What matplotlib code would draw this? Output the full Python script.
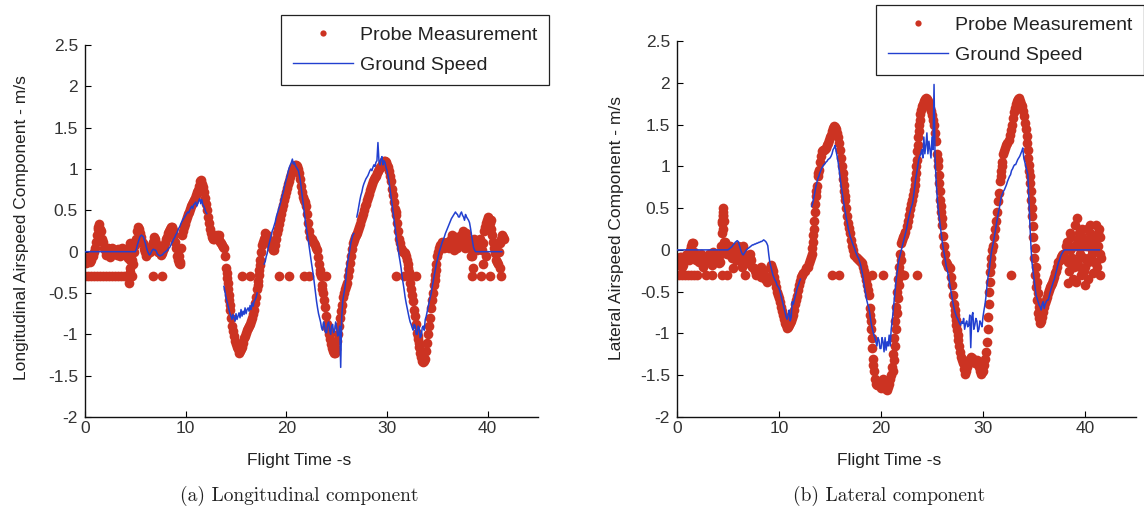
import numpy as np
import matplotlib
matplotlib.use("Agg")
import matplotlib.pyplot as plt
from matplotlib.lines import Line2D

nan = np.nan
# ---------------- data (sampled every 0.1 s from t = 0) ----------------
t_step = 0.1

# (a) Longitudinal component
lon_probe = [
    -0.10, -0.14, -0.12, -0.06, -0.08, -0.13, -0.10, -0.04, -0.05, 0.00,
    0.05, 0.12, 0.20, 0.30, 0.33, 0.28, 0.25, 0.15, 0.12, 0.05,
    0.02, -0.04, 0.00, 0.04, -0.03, -0.06, 0.02, 0.05, -0.02, 0.00,
    0.02, -0.02, -0.04, 0.03, 0.00, -0.05, 0.03, 0.05, -0.03, 0.00,
    0.00, 0.03, -0.05, -0.08, -0.02, -0.20, -0.30, -0.10, -0.15, 0.00,
    0.08, 0.15, 0.25, 0.30, 0.28, 0.22, 0.18, 0.12, 0.10, 0.03,
    0.00, -0.05, -0.03, 0.02, 0.05, 0.00, 0.02, 0.08, 0.12, 0.18,
    0.15, 0.10, 0.05, 0.00, 0.00, -0.04, -0.02, 0.02, 0.05, 0.10,
    0.15, 0.18, 0.22, 0.25, 0.28, 0.30, 0.30, 0.26, 0.20, 0.12,
    0.05, -0.05, -0.10, -0.14, -0.12, 0.05, 0.20, 0.25, 0.30, 0.34,
    0.38, 0.42, 0.45, 0.48, 0.52, 0.55, 0.58, 0.60, 0.62, 0.65,
    0.68, 0.72, 0.75, 0.80, 0.85, 0.87, 0.82, 0.78, 0.72, 0.65,
    0.58, 0.50, 0.42, 0.35, 0.28, 0.22, 0.18, 0.15, 0.15, 0.17,
    0.18, 0.20, 0.16, 0.14, 0.12, 0.10, 0.08, 0.06, 0.05, -0.05,
    -0.20, -0.32, -0.45, -0.58, -0.70, -0.80, -0.90, -0.96, -1.02, -1.08,
    -1.12, -1.15, -1.18, -1.22, -1.20, -1.18, -1.15, -1.10, -1.05, -1.02,
    -0.98, -0.95, -0.92, -0.90, -0.88, -0.84, -0.80, -0.75, -0.70, -0.62,
    -0.55, -0.45, -0.35, -0.22, -0.10, 0.00, 0.08, 0.12, 0.15, 0.18,
    0.18, 0.20, 0.15, 0.12, 0.10, 0.08, 0.05, 0.02, 0.02, 0.08,
    0.15, 0.22, 0.28, 0.34, 0.40, 0.46, 0.52, 0.57, 0.62, 0.67,
    0.72, 0.77, 0.82, 0.86, 0.90, 0.94, 0.98, 1.01, 1.03, 1.05,
    1.05, 1.04, 1.00, 0.95, 0.88, 0.80, 0.72, 0.66, 0.62, 0.60,
    0.55, 0.45, 0.35, 0.25, 0.18, 0.15, 0.12, 0.10, 0.08, 0.05,
    0.02, -0.06, -0.15, -0.22, -0.30, -0.40, -0.50, -0.58, -0.67, -0.78,
    -0.88, -0.94, -1.00, -1.06, -1.12, -1.16, -1.20, -1.22, -1.23, -1.18,
    -1.08, -1.00, -0.90, -0.80, -0.72, -0.64, -0.55, -0.50, -0.45, -0.42,
    -0.38, -0.30, -0.22, -0.14, -0.05, 0.03, 0.10, 0.14, 0.18, 0.20,
    0.22, 0.26, 0.30, 0.34, 0.38, 0.42, 0.45, 0.50, 0.55, 0.58,
    0.62, 0.66, 0.70, 0.74, 0.78, 0.82, 0.85, 0.88, 0.90, 0.92,
    0.95, 0.98, 1.00, 1.02, 1.03, 1.06, 1.08, 1.10, 1.10, 1.08,
    1.05, 1.02, 0.98, 0.92, 0.85, 0.76, 0.68, 0.60, 0.52, 0.44,
    0.35, 0.25, 0.15, 0.10, 0.05, 0.02, 0.00, 0.00, -0.02, -0.05,
    -0.10, -0.20, -0.30, -0.38, -0.45, -0.52, -0.60, -0.70, -0.78, -0.88,
    -0.98, -1.06, -1.15, -1.22, -1.28, -1.32, -1.33, -1.32, -1.30, -1.20,
    -1.10, -1.00, -0.90, -0.80, -0.68, -0.58, -0.50, -0.40, -0.28, -0.15,
    -0.05, 0.00, 0.05, 0.08, 0.08, 0.12, 0.10, 0.05, 0.06, 0.10,
    0.12, 0.08, 0.05, 0.10, 0.15, 0.12, 0.08, 0.02, 0.12, 0.18,
    0.05, 0.10, 0.15, 0.08, 0.20, 0.18, 0.12, 0.05, 0.22, 0.15,
    0.12, 0.08, 0.05, -0.05, -0.05, 0.05, 0.15, 0.08, 0.10, 0.02,
    0.05, 0.12, 0.15, 0.08, 0.02, 0.10, 0.25, 0.30, 0.35, 0.38,
    0.42, 0.40, 0.35, 0.28, 0.20, 0.12, 0.05, -0.02, -0.10, -0.12,
    -0.15, 0.00, 0.10, 0.15, 0.20, 0.18, 0.15,
]
lon_ground = [
    0, 0, 0, 0, 0, 0, 0, 0, 0, 0, 0, 0, 0, 0, 0, 0, 0, 0, 0, 0, 0, 0, 0, 0, 0,
    0, 0, 0, 0, 0, 0, 0, 0, 0, 0, 0, 0, 0, 0, 0, 0, 0, 0, 0, 0, 0, 0, 0, 0, 0,
    0.00, 0.03, 0.08, 0.12, 0.16, 0.19, 0.20, 0.19, 0.18, 0.14,
    0.10, 0.05, 0.01, -0.02, -0.04, -0.03, 0.00, 0.02, 0.03, 0.02,
    0.02, 0.00, -0.03, -0.04, -0.05, -0.05, -0.04, -0.04, -0.02, -0.01,
    0.00, 0.01, 0.02, 0.04, 0.05, 0.07, 0.10, 0.12, 0.15, 0.17,
    0.20, 0.22, 0.25, 0.28, 0.30, 0.33, 0.36, 0.38, 0.40, 0.42,
    0.44, 0.46, 0.48, 0.47, 0.50, 0.53, 0.55, 0.52, 0.57, 0.58,
    0.60, 0.55, 0.58, 0.62, 0.64, 0.58, 0.63, 0.57, 0.55, 0.52,
    0.48, 0.46, nan, nan, nan, nan, nan, nan, nan, nan,
    nan, nan, nan, nan, nan, nan, nan, nan, -0.42, -0.48,
    -0.55, -0.60, -0.65, -0.70, -0.75, -0.78, -0.82, -0.76, -0.80, -0.84,
    -0.75, -0.82, -0.78, -0.74, -0.80, -0.70, -0.78, -0.72, -0.76, -0.68,
    -0.75, -0.70, -0.68, -0.72, -0.65, -0.70, -0.62, -0.66, -0.60, -0.58,
    -0.55, -0.50, nan, nan, nan, nan, nan, nan, -0.15, -0.12,
    -0.06, -0.02, 0.05, 0.10, 0.15, 0.20, 0.25, 0.28, 0.32, 0.36,
    0.42, 0.46, 0.50, 0.54, 0.58, 0.63, 0.68, 0.72, 0.78, 0.83,
    0.88, 0.92, 0.98, 1.02, 1.05, 1.08, 1.12, 1.06, 1.08, 1.04,
    1.02, 1.00, 0.98, 0.92, 0.85, 0.75, 0.65, 0.55, 0.45, 0.36,
    0.28, 0.20, 0.12, 0.03, -0.05, -0.14, -0.22, -0.30, -0.40, -0.50,
    -0.60, -0.68, -0.75, -0.80, -0.85, -0.92, -0.95, -0.85, -0.90, -0.98,
    -0.98, -0.88, -0.85, -0.95, -1.00, -0.90, -0.88, -0.98, -0.95, -0.85,
    -0.92, -1.02, -1.00, -0.90, -1.40, -0.80, -0.60, -0.52, -0.45, -0.35,
    -0.20, -0.12, -0.05, 0.02, 0.10, 0.15, 0.20, 0.22, nan, nan,
    0.42, 0.48, 0.55, 0.62, 0.68, 0.72, 0.78, 0.82, 0.85, 0.88,
    0.90, 0.92, 0.95, 0.98, 1.00, 0.98, 1.02, 1.05, 1.03, 1.08,
    1.10, 1.32, 1.10, 1.05, 1.12, 1.15, 1.05, 1.10, 1.08, 1.02,
    0.98, 0.92, 0.85, 0.76, 0.68, 0.58, 0.50, 0.40, 0.30, 0.20,
    0.12, 0.03, -0.05, -0.12, -0.20, -0.30, -0.38, -0.46, -0.55, -0.62,
    -0.68, -0.74, -0.80, -0.85, -0.88, -0.92, -0.95, -0.88, -0.90, -1.00,
    -1.00, -0.90, -0.92, -1.04, -1.02, -0.92, -0.90, -0.95, -0.82, -0.78,
    -0.72, -0.66, -0.60, -0.55, -0.50, -0.42, -0.35, -0.28, -0.22, -0.15,
    -0.10, -0.05, 0.00, 0.04, 0.08, 0.12, 0.15, 0.18, 0.22, 0.25,
    0.28, 0.31, 0.34, 0.37, 0.40, 0.42, 0.44, 0.46, 0.48, 0.46,
    0.45, 0.42, 0.42, 0.46, 0.48, 0.44, 0.42, 0.38, 0.45, 0.42,
    0.40, 0.38, 0.35, 0.28, 0.20, 0.12, 0.05, 0.02, 0.00, 0.00,
    0, 0, 0, 0, 0, 0, 0, 0, 0, 0, 0, 0, 0, 0, 0, 0, 0, 0, 0, 0,
    0, 0, 0, 0, 0, nan, nan,
]
lon_drop_t = [0.0, 0.3, 0.6, 0.9, 1.2, 1.5, 1.8, 2.1, 2.4, 2.7, 3.0, 3.3, 3.6, 3.9,
              4.3, 4.7, 6.8, 7.6, 15.6, 16.4, 19.3, 20.3, 21.8, 22.3, 23.9,
              30.9, 31.7, 32.9, 38.4, 39.3, 40.2, 41.3]
lon_drop_v = -0.3
lon_extra_t = [4.4, 4.5, 4.5, 4.6, 4.5, 1.3, 1.4, 9.3, 9.4, 36.5, 37.5, 38.5, 39.5,
               40.3, 41.2, 39.8, 40.1, 13.3, 17.9,
               14.15, 14.25, 14.35, 14.45, 17.15, 17.25, 17.35, 23.35, 23.55,
               32.05, 32.15, 33.05, 33.15, 34.75, 34.85, 24.05, 30.85]
lon_extra_v = [-0.38, -0.25, -0.10, 0.05, 0.10, 0.28, 0.18, -0.05, -0.15, 0.20, 0.25,
               -0.20, -0.15, 0.38, -0.20, -0.05, 0.30, 0.20, 0.22,
               -0.26, -0.38, -0.52, -0.64, -0.40, -0.28, -0.16, -0.26, -0.45,
               -0.15, -0.25, -1.02, -1.10, -0.34, -0.22, -0.91, 0.48]

# (b) Lateral component
lat_probe = [
    -0.12, -0.18, -0.15, -0.08, -0.08, -0.14, -0.18, -0.12, -0.10, -0.06,
    -0.05, -0.10, -0.12, 0.00, 0.05, 0.08, 0.08, -0.02, -0.10, -0.12,
    -0.08, -0.12, -0.14, -0.10, -0.05, -0.08, -0.10, -0.14, -0.15, -0.12,
    -0.08, -0.05, -0.12, -0.16, -0.18, -0.14, -0.10, -0.08, -0.05, -0.08,
    -0.12, -0.16, -0.15, -0.05, 0.20, 0.45, 0.35, 0.10, 0.00, -0.05,
    -0.05, 0.02, 0.05, -0.02, -0.10, -0.05, 0.02, -0.04, -0.12, -0.02,
    0.05, 0.00, -0.08, -0.15, -0.20, -0.10, -0.05, -0.10, -0.12, -0.16,
    -0.15, -0.10, -0.05, -0.12, -0.20, -0.22, -0.25, -0.24, -0.28, -0.26,
    -0.30, -0.28, -0.32, -0.30, -0.28, -0.32, -0.35, -0.33, -0.38, -0.36,
    -0.32, -0.22, -0.18, -0.22, -0.25, -0.32, -0.38, -0.44, -0.50, -0.54,
    -0.58, -0.62, -0.68, -0.73, -0.78, -0.83, -0.88, -0.90, -0.93, -0.92,
    -0.90, -0.88, -0.85, -0.82, -0.78, -0.72, -0.65, -0.60, -0.55, -0.48,
    -0.42, -0.37, -0.32, -0.30, -0.28, -0.25, -0.22, -0.21, -0.20, -0.16,
    -0.12, -0.08, -0.05, 0.10, 0.25, 0.45, 0.64, 0.76, 0.88, 0.96,
    1.05, 1.12, 1.18, 1.20, 1.20, 1.21, 1.22, 1.25, 1.28, 1.32,
    1.35, 1.38, 1.42, 1.46, 1.48, 1.47, 1.45, 1.40, 1.35, 1.28,
    1.20, 1.10, 1.00, 0.85, 0.70, 0.60, 0.50, 0.40, 0.32, 0.26,
    0.20, 0.12, 0.05, 0.00, -0.06, -0.08, -0.10, -0.11, -0.12, -0.13,
    -0.14, -0.16, -0.20, -0.25, -0.30, -0.36, -0.42, -0.48, -0.54, -0.70,
    -0.85, -1.05, -1.30, -1.45, -1.55, -1.60, -1.62, -1.58, -1.58, -1.62,
    -1.65, -1.60, -1.55, -1.58, -1.62, -1.66, -1.68, -1.64, -1.60, -1.55,
    -1.50, -1.40, -1.25, -1.05, -0.85, -0.68, -0.50, -0.35, -0.20, -0.05,
    0.08, 0.12, 0.15, 0.18, 0.22, 0.28, 0.35, 0.42, 0.49, 0.55,
    0.60, 0.66, 0.72, 0.85, 1.00, 1.18, 1.35, 1.50, 1.63, 1.68,
    1.72, 1.75, 1.78, 1.80, 1.82, 1.80, 1.78, 1.74, 1.70, 1.66,
    1.62, 1.56, 1.50, 1.40, 1.30, 1.15, 1.00, 0.80, 0.60, 0.45,
    0.30, 0.17, 0.05, -0.05, -0.14, -0.17, -0.20, -0.21, -0.22, -0.32,
    -0.42, -0.54, -0.65, -0.78, -0.90, -1.02, -1.15, -1.22, -1.28, -1.32,
    -1.35, -1.42, -1.48, -1.45, -1.40, -1.36, -1.32, -1.30, -1.28, -1.29,
    -1.30, -1.33, -1.35, -1.34, -1.32, -1.36, -1.40, -1.45, -1.48, -1.46,
    -1.45, -1.38, -1.30, -1.22, -1.10, -0.80, -0.50, -0.26, -0.10, 0.00,
    0.05, 0.15, 0.25, 0.35, 0.45, 0.58, 0.68, 0.82, 0.95, 1.05,
    1.15, 1.18, 1.22, 1.25, 1.28, 1.32, 1.38, 1.44, 1.50, 1.58,
    1.65, 1.70, 1.75, 1.78, 1.80, 1.82, 1.78, 1.75, 1.72, 1.66,
    1.60, 1.52, 1.45, 1.28, 1.10, 0.95, 0.80, 0.60, 0.40, 0.15,
    -0.10, -0.30, -0.45, -0.60, -0.75, -0.82, -0.88, -0.85, -0.80, -0.74,
    -0.68, -0.64, -0.60, -0.56, -0.52, -0.48, -0.45, -0.42, -0.40, -0.36,
    -0.32, -0.28, -0.25, -0.20, -0.15, -0.12, -0.08, -0.06, -0.05, -0.08,
    -0.10, 0.05, 0.10, -0.15, -0.25, 0.00, 0.15, -0.10, -0.35, -0.20,
    0.30, 0.05, -0.15, 0.10, 0.20, -0.05, -0.30, 0.15, 0.05, -0.25,
    -0.20, 0.10, 0.25, -0.15, -0.10, 0.20, 0.15, -0.05, -0.28, 0.05,
    0.10, -0.15, -0.20, 0.20, 0.25, -0.05, -0.10,
]
lat_ground = [
    0, 0, 0, 0, 0, 0, 0, 0, 0, 0, 0, 0, 0, 0, 0, 0, 0, 0, 0, 0, 0, 0, 0, 0, 0,
    0, 0, 0, 0, 0, 0, 0, 0, 0, 0, 0, 0, 0, 0, 0, 0, 0, 0, 0, 0, 0, 0, 0, 0, 0,
    0.00, 0.01, 0.02, 0.03, 0.04, 0.06, 0.07, 0.09, 0.10, 0.11,
    0.10, 0.06, 0.02, -0.02, -0.05, -0.06, -0.04, -0.02, 0.00, 0.01,
    0.02, 0.03, 0.04, 0.05, 0.06, 0.06, 0.07, 0.07, 0.08, 0.08,
    0.09, 0.09, 0.10, 0.10, 0.11, 0.12, 0.11, 0.10, 0.08, 0.05,
    -0.06, -0.15, -0.20, -0.25, -0.30, -0.33, -0.36, -0.38, -0.42, -0.44,
    -0.46, -0.50, -0.55, -0.60, -0.65, -0.70, -0.75, -0.80, -0.83, -0.78,
    -0.72, -0.85, -0.80, -0.62, -0.65, -0.60, -0.55, -0.50, -0.45, -0.42,
    -0.38, -0.35, nan, nan, nan, nan, nan, nan, nan, nan,
    nan, nan, 0.52, 0.56, 0.62, 0.68, 0.75, 0.80, 0.85, 0.88,
    0.92, 0.95, 0.98, 1.00, 1.02, 1.03, 1.05, 1.06, 1.08, 1.09,
    1.10, 1.12, 1.15, 1.20, 1.22, 1.25, 1.18, 1.12, 1.05, 0.95,
    0.85, 0.76, 0.68, 0.60, 0.52, 0.45, 0.38, 0.32, 0.25, 0.20,
    0.15, 0.12, 0.08, 0.05, 0.02, -0.02, -0.05, -0.08, -0.10, -0.14,
    -0.18, -0.24, -0.30, -0.38, -0.46, -0.53, -0.60, -0.65, -0.69, -0.76,
    -0.85, -0.92, -0.97, -1.02, -1.05, -1.10, -1.15, -1.05, -1.08, -1.18,
    -1.18, -1.05, -1.10, -1.22, -1.05, -1.20, -1.10, -1.15, -1.02, -1.15,
    -0.95, -0.85, -0.72, -0.60, -0.45, -0.34, -0.25, -0.15, -0.10, -0.05,
    0.00, 0.05, 0.10, 0.15, 0.20, 0.25, 0.32, 0.38, 0.43, 0.48,
    0.52, 0.56, 0.65, 0.75, 0.85, 0.92, 1.00, 1.08, 1.12, 1.15,
    1.20, 1.10, 1.35, 1.15, 1.25, 1.40, 1.15, 1.30, 1.20, 1.10,
    1.35, 1.20, 1.98, 1.10, 0.84, 0.65, 0.50, 0.40, 0.30, 0.20,
    0.10, 0.02, -0.05, -0.12, -0.20, -0.25, -0.30, -0.38, -0.45, -0.52,
    -0.60, -0.66, -0.72, -0.76, -0.80, -0.82, -0.85, -0.88, -0.90, -0.86,
    -0.88, -0.82, -0.95, -0.88, -0.85, -0.92, -0.90, -0.78, -1.17, -0.80,
    -0.75, -0.95, -0.90, -0.82, -0.85, -0.98, -0.95, -0.85, -0.88, -0.92,
    -0.80, -0.72, -0.65, -0.55, -0.42, -0.32, -0.25, -0.15, -0.05, 0.02,
    0.08, 0.15, 0.22, 0.30, 0.37, 0.44, 0.50, 0.57, 0.64, 0.67,
    0.70, 0.72, 0.75, 0.78, 0.82, 0.85, 0.88, 0.90, 0.95, 0.97,
    1.00, 1.02, 1.02, 1.05, 1.08, 1.10, 1.12, 1.15, 1.18, 1.22,
    1.10, 1.05, 1.00, 0.95, 0.90, 0.60, 0.30, 0.05, -0.15, -0.25,
    -0.35, -0.45, -0.54, -0.58, -0.62, -0.66, -0.68, -0.72, -0.65, -0.62,
    -0.70, -0.65, -0.62, -0.60, -0.60, -0.55, -0.50, -0.46, -0.42, -0.38,
    -0.35, -0.30, -0.25, -0.20, -0.15, -0.12, -0.08, -0.05, -0.03, -0.01,
    0, 0, 0, 0, 0, 0, 0, 0, 0, 0, 0, 0, 0, 0, 0, 0, 0, 0, 0, 0,
    0, 0, 0, 0, 0, 0, 0, 0, 0, 0,
    0, 0, 0, 0, 0, nan, nan,
]
lat_drop_t = [0.2, 0.5, 0.8, 1.1, 1.4, 1.7, 2.0, 2.8, 3.4, 4.9, 6.7, 7.7,
              15.2, 15.9, 19.1, 20.2, 22.3, 23.5, 32.7]
lat_drop_v = -0.3
lat_extra_t = [4.4, 4.5, 4.5, 4.5, 4.6, 4.4, 0.5, 1.3, 2.5, 3.5, 5.5, 6.5, 7.2, 8.2,
               38.3, 38.5, 38.7, 38.9, 39.1, 39.3, 39.5, 39.7, 39.9, 40.1, 40.3,
               40.5, 40.7, 40.9, 41.1, 41.3, 41.5, 41.5, 39.2, 40.0,
               13.25, 13.35, 13.45, 13.55, 13.65, 13.85, 16.25, 16.35, 16.45,
               18.95, 19.05, 19.15, 19.25,
               21.15, 21.25, 21.35, 21.45, 21.55, 21.65, 21.75, 21.85, 21.95,
               23.35, 23.45, 23.55, 23.65, 23.75, 23.85,
               25.55, 25.65, 25.75, 25.85, 25.95,
               27.25, 27.35, 27.45, 27.55,
               30.45, 30.55, 30.65, 30.75, 31.75, 31.85,
               34.35, 34.45, 34.55, 34.65, 34.75, 34.85, 34.95, 35.05, 35.15,
               35.25, 35.35, 35.45, 4.35, 4.45, 4.55]
lat_extra_v = [0.35, 0.50, 0.40, 0.25, 0.10, -0.30, -0.20, -0.05, -0.20, -0.02, -0.22,
               0.05, -0.10, -0.20,
               -0.40, 0.20, -0.15, 0.05, -0.38, 0.12, -0.20, 0.25, -0.10, 0.05, -0.35,
               0.30, 0.00, -0.15, 0.30, 0.05, -0.30, 0.15, 0.38, -0.42,
               0.02, 0.18, 0.35, 0.55, 0.70, 0.92, 0.92, 0.78, 0.65,
               -0.78, -0.95, -1.18, -1.38,
               -1.45, -1.32, -1.15, -0.95, -0.76, -0.58, -0.42, -0.28, -0.12,
               0.78, 0.92, 1.08, 1.26, 1.42, 1.56,
               1.08, 0.90, 0.70, 0.52, 0.38,
               -0.72, -0.84, -0.96, -1.08,
               -0.95, -0.65, -0.38, -0.18, 0.88, 1.00,
               1.36, 1.20, 1.02, 0.88, 0.70, 0.50, 0.28, 0.02, -0.20,
               -0.38, -0.52, -0.68, 0.05, 0.32, 0.42]

x_ticks = [0, 10, 20, 30, 40]
y_ticks = [-2, -1.5, -1, -0.5, 0, 0.5, 1, 1.5, 2, 2.5]
y_ticklabels = ["-2", "-1.5", "-1", "-0.5", "0", "0.5", "1", "1.5", "2", "2.5"]

# ---------------- style ----------------
RED = "#cc3322"
BLUE = "#2240d0"
W, H = 1144, 513
plt.rcParams["font.family"] = ["Liberation Sans", "DejaVu Sans"]

fig = plt.figure(figsize=(W / 100, H / 100), dpi=100)


def make_panel(rect, probe, ground, drop_t, drop_v, extra_t, extra_v,
               ylabel, ylabel_x, caption, cx, leg_xy):
    ax = fig.add_axes(rect)
    t = np.arange(len(probe)) * t_step
    tg = np.arange(len(ground)) * t_step
    pt = np.concatenate([t, np.array(drop_t), np.array(extra_t)])
    pv = np.concatenate([np.array(probe), np.full(len(drop_t), drop_v), np.array(extra_v)])
    ax.plot(pt, pv, linestyle="none", marker="o", ms=7, mew=0, color=RED, zorder=2)
    ax.plot(tg, np.array(ground, dtype=float), color=BLUE, lw=1.1, zorder=3)
    ax.set_xlim(0, 45)
    ax.set_ylim(-2, 2.5)
    ax.set_xticks(x_ticks)
    ax.set_yticks(y_ticks)
    ax.set_yticklabels(y_ticklabels)
    for s in ("top", "right"):
        ax.spines[s].set_visible(False)
    for s in ("left", "bottom"):
        ax.spines[s].set_linewidth(1.0)
        ax.spines[s].set_color("#111111")
    ax.tick_params(direction="in", length=4, width=0.8, labelsize=12.5,
                   labelcolor="#333333", pad=3)
    ax.tick_params(axis="y", pad=5)
    fig.text(ylabel_x / W, 1 - 228 / H, ylabel, rotation=90, ha="center", va="center",
             fontsize=12.5, color="#222222")
    fig.text(cx / W, 1 - 460 / H, "Flight Time -s", ha="center", va="center",
             fontsize=12.5, color="#222222")
    fig.text(cx / W, 1 - 496 / H, caption, ha="center", va="center",
             fontsize=14, family="cmr10", color="#222222")
    handles = [Line2D([], [], linestyle="none", marker="o", ms=4.5, mew=0, color=RED),
               Line2D([], [], color=BLUE, lw=1.0)]
    leg = ax.legend(handles, ["Probe Measurement", "Ground Speed"], loc="upper left",
                    bbox_to_anchor=(leg_xy[0] / W, 1 - leg_xy[1] / H),
                    bbox_transform=fig.transFigure, fontsize=14, frameon=True,
                    fancybox=False, edgecolor="#222222", framealpha=1,
                    handlelength=3.1, handletextpad=0.36, borderpad=0.6,
                    labelspacing=0.6, borderaxespad=0)
    leg.get_frame().set_linewidth(0.9)
    for txt in leg.get_texts():
        txt.set_color("#222222")
    return ax


make_panel([85 / W, (H - 417) / H, 453 / W, 372 / H], lon_probe, lon_ground,
           lon_drop_t, lon_drop_v, lon_extra_t, lon_extra_v,
           "Longitudinal Airspeed Component - m/s", 22, "(a) Longitudinal component",
           299, (281, 15))
make_panel([677 / W, (H - 417) / H, 459 / W, 376 / H], lat_probe, lat_ground,
           lat_drop_t, lat_drop_v, lat_extra_t, lat_extra_v,
           "Lateral Airspeed Component - m/s", 616, "(b) Lateral component",
           889, (876, 5))

fig.savefig("out.png", dpi=100)
